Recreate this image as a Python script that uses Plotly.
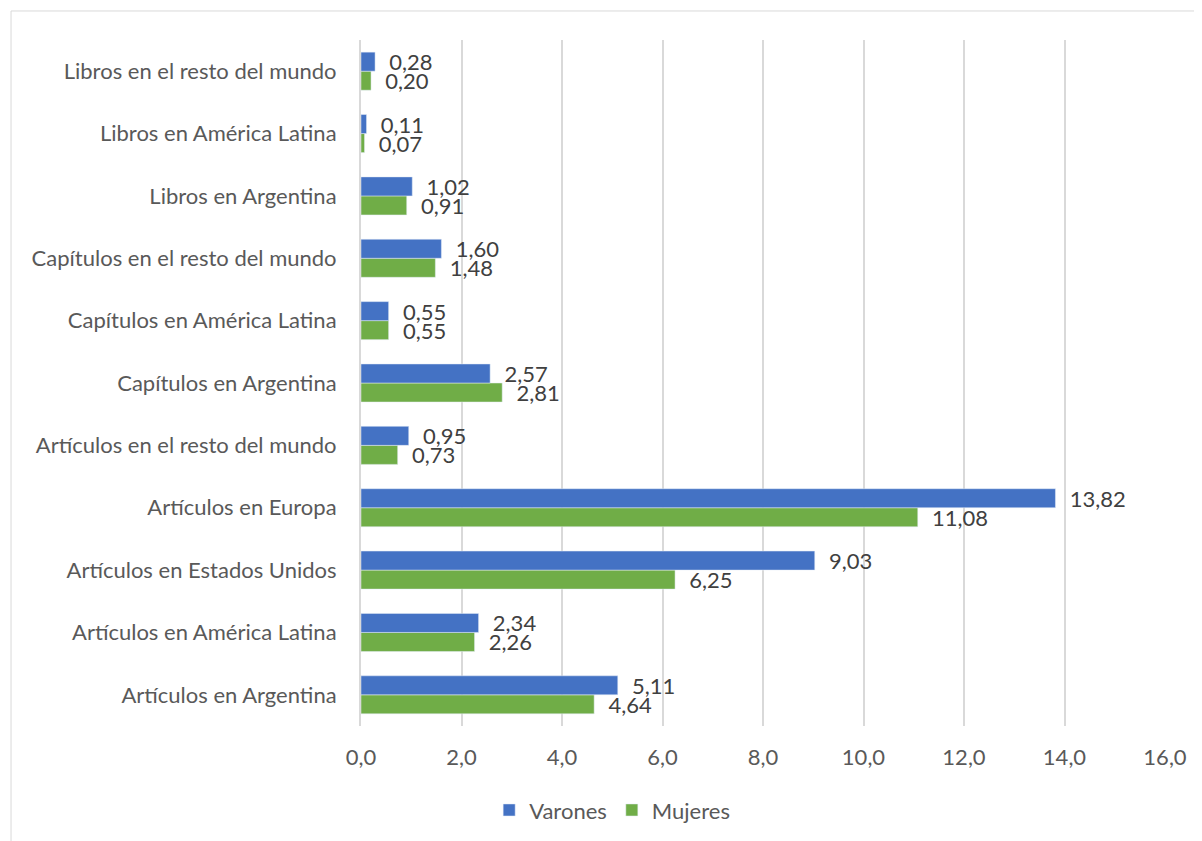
import plotly.graph_objects as go

categories = [
    "Artículos en Argentina",
    "Artículos en América Latina",
    "Artículos en Estados Unidos",
    "Artículos en Europa",
    "Artículos en el resto del mundo",
    "Capítulos en Argentina",
    "Capítulos en América Latina",
    "Capítulos en el resto del mundo",
    "Libros en Argentina",
    "Libros en América Latina",
    "Libros en el resto del mundo",
]
varones = [5.11, 2.34, 9.03, 13.82, 0.95, 2.57, 0.55, 1.60, 1.02, 0.11, 0.28]
mujeres = [4.64, 2.26, 6.25, 11.08, 0.73, 2.81, 0.55, 1.48, 0.91, 0.07, 0.20]
x_ticks = [0, 2, 4, 6, 8, 10, 12, 14, 16]

FONT = "Lato"
SIZE = 22
label_font = dict(family=FONT, size=SIZE, color="#404040")

fig = go.Figure()
fig.add_trace(go.Bar(
    y=categories, x=mujeres, name="Mujeres", orientation="h",
    marker=dict(color="#70AD47"),
    texttemplate="\u00a0\u00a0%{x:.2f}", textposition="outside",
    textfont=label_font, cliponaxis=False, constraintext="none",
))
fig.add_trace(go.Bar(
    y=categories, x=varones, name="Varones", orientation="h",
    marker=dict(color="#4472C4"),
    texttemplate="\u00a0\u00a0%{x:.2f}", textposition="outside",
    textfont=label_font, cliponaxis=False, constraintext="none",
))

fig.update_layout(
    width=1194, height=833,
    separators=",.",
    barmode="group", bargap=0.39, bargroupgap=0,
    plot_bgcolor="white", paper_bgcolor="white",
    margin=dict(l=353, r=37, t=32, b=115),
    font=dict(family=FONT, size=SIZE, color="#595959"),
    xaxis=dict(
        range=[0, 16], tickvals=x_ticks, tickformat=".1f",
        showgrid=True, gridcolor="#D9D9D9", gridwidth=2,
        zeroline=False, showline=False, ticks="",
        tickfont=dict(family=FONT, size=SIZE, color="#595959"),
        ticklabelstandoff=16,
    ),
    yaxis=dict(
        categoryorder="array", categoryarray=categories,
        showline=True, linecolor="#D9D9D9", linewidth=2,
        showgrid=False, ticks="",
        tickfont=dict(family=FONT, size=SIZE, color="#595959"),
        ticklabelstandoff=18,
    ),
    legend=dict(
        orientation="h", traceorder="reversed",
        xref="container", yref="container",
        x=0.506, xanchor="center", y=0.037, yanchor="middle",
        font=dict(family=FONT, size=SIZE, color="#595959"),
        itemwidth=30,
    ),
    showlegend=True,
    shapes=[dict(
        type="rect", xref="paper", yref="paper",
        x0=-0.4353, x1=1.06, y0=-0.18, y1=1.0423,
        line=dict(color="#D9D9D9", width=1), layer="below",
    )],
)

fig.write_html("out.html")
